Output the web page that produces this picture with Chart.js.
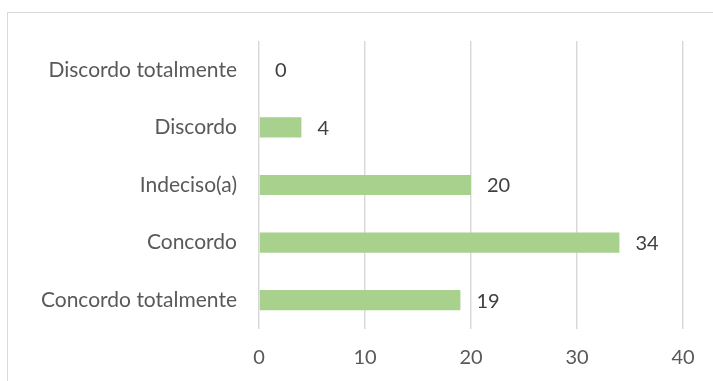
<!DOCTYPE html>
<html>
<head>
<meta charset="utf-8">
<script src="https://cdn.jsdelivr.net/npm/chart.js@4"></script>
<style>
  html, body { margin: 0; padding: 0; background: #fff; overflow: hidden; }
  #wrap { position: relative; width: 713px; height: 381px; }
  #frame { position: absolute; left: 7px; top: 12px; width: 720px; height: 380px; border: 1px solid #d9d9d9; box-sizing: border-box; }
  canvas { position: absolute; left: 0; top: 0; }
</style>
</head>
<body>
<div id="wrap">
  <div id="frame"></div>
  <canvas id="chart" width="713" height="381"></canvas>
</div>
<script>
const categories = ["Discordo totalmente", "Discordo", "Indeciso(a)", "Concordo", "Concordo totalmente"]
const responses = [0, 4, 20, 34, 19]
const axisMax = 40
const axisStep = 10

const textColor = "#595959"
const fontFamily = "Lato, 'Open Sans', sans-serif"

// value labels just past the end of each bar
const barValueLabels = {
  id: "barValueLabels",
  afterDatasetsDraw(chart) {
    const { ctx } = chart
    const meta = chart.getDatasetMeta(0)
    ctx.save()
    ctx.fillStyle = "#404040"
    ctx.font = `20px ${fontFamily}`
    ctx.textAlign = "left"
    ctx.textBaseline = "middle"
    meta.data.forEach((bar, i) => {
      ctx.fillText(String(responses[i]), bar.x + 16, bar.y + 1)
    })
    ctx.restore()
  }
}

new Chart(document.getElementById("chart").getContext("2d"), {
  type: "bar",
  data: {
    labels: categories,
    datasets: [{
      data: responses,
      backgroundColor: "#a9d18e",
      borderWidth: 0,
      barPercentage: 0.35,
      categoryPercentage: 1
    }]
  },
  options: {
    indexAxis: "y",
    responsive: false,
    animation: false,
    layout: { padding: { left: 0, top: 41, right: 30, bottom: 0 } },
    plugins: {
      legend: { display: false },
      tooltip: { enabled: false }
    },
    scales: {
      x: {
        min: 0,
        max: axisMax,
        ticks: { stepSize: axisStep, color: textColor, font: { family: fontFamily, size: 20 }, padding: 17 },
        grid: { color: "#d9d9d9", lineWidth: 1.5, drawTicks: false },
        border: { display: false },
        afterFit(scale) { scale.height = 52 }
      },
      y: {
        ticks: { color: textColor, font: { family: fontFamily, size: 21 }, padding: 22 },
        grid: { display: false, drawTicks: false },
        border: { display: false },
        afterFit(scale) { scale.width = 259 }
      }
    }
  },
  plugins: [barValueLabels]
})
</script>
</body>
</html>
